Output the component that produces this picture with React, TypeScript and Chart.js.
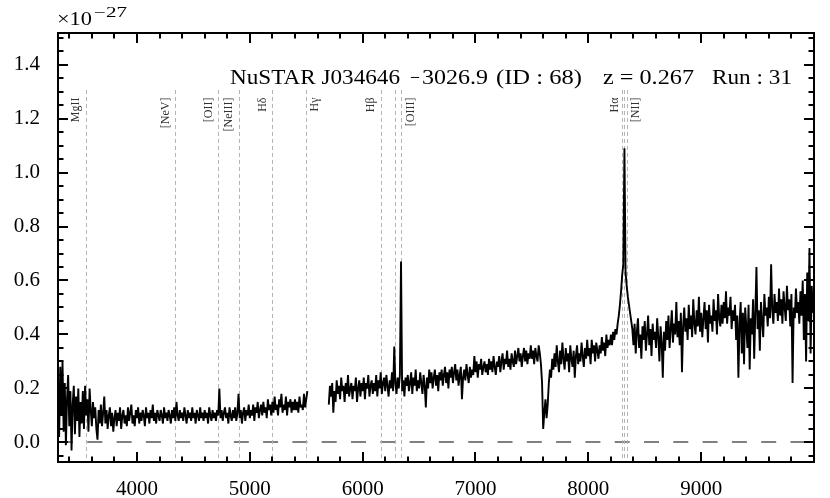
import React, { useEffect, useRef } from 'react';
import { Chart, registerables } from 'chart.js';

Chart.register(...registerables);

// ---------- data ----------
const REDSHIFT = 0.267;
const STEP = 10; // Angstrom sampling of the plotted spectrum
const BLUE_START = 3300;
const RED_START = 5700;

// flux (x1e-27), blue arm, 3300..5510 A
const fluxBlue = [
  0.20, 0.02, 0.28, 0.10, 0.30, 0.04, 0.22, -0.01, 0.16, 0.25,
  0.06, 0.19, -0.03, 0.14, 0.21, 0.03, 0.17, 0.08, 0.20, 0.02,
  0.15, 0.07, 0.19, 0.05, 0.21, 0.10, 0.16, 0.04, 0.20, 0.12,
  0.06, 0.15, 0.09, 0.13, 0.05, 0.01, 0.12, 0.07, 0.14, 0.06,
  0.11, 0.17, 0.07, 0.12, 0.05, 0.10, 0.13, 0.06, 0.11, 0.04,
  0.09, 0.12, 0.06, 0.11, 0.08, 0.13, 0.05, 0.10, 0.12, 0.07,
  0.10, 0.06, 0.13, 0.08, 0.11, 0.14, 0.07, 0.10, 0.06, 0.12,
  0.09, 0.13, 0.07, 0.11, 0.08, 0.12, 0.10, 0.06, 0.13, 0.09,
  0.11, 0.07, 0.12, 0.09, 0.14, 0.08, 0.11, 0.07, 0.12, 0.10,
  0.08, 0.12, 0.10, 0.07, 0.13, 0.09, 0.11, 0.08, 0.12, 0.10,
  0.07, 0.12, 0.09, 0.13, 0.08, 0.15, 0.10, 0.08, 0.12, 0.09,
  0.11, 0.08, 0.13, 0.10, 0.07, 0.12, 0.09, 0.11, 0.08, 0.13,
  0.09, 0.11, 0.07, 0.12, 0.10, 0.08, 0.13, 0.09, 0.11, 0.08,
  0.12, 0.09, 0.11, 0.07, 0.13, 0.10, 0.08, 0.12, 0.09, 0.11,
  0.08, 0.12, 0.10, 0.20, 0.09, 0.12, 0.08, 0.11, 0.13, 0.09,
  0.11, 0.07, 0.13, 0.10, 0.08, 0.12, 0.09, 0.13, 0.08, 0.11,
  0.18, 0.09, 0.12, 0.07, 0.11, 0.13, 0.08, 0.12, 0.10, 0.14,
  0.09, 0.12, 0.10, 0.14, 0.08, 0.13, 0.11, 0.15, 0.09, 0.12,
  0.14, 0.10, 0.15, 0.11, 0.13, 0.09, 0.16, 0.12, 0.14, 0.10,
  0.15, 0.11, 0.17, 0.12, 0.14, 0.10, 0.16, 0.13, 0.18, 0.11,
  0.14, 0.12, 0.17, 0.10, 0.15, 0.13, 0.16, 0.11, 0.15, 0.12,
  0.16, 0.12, 0.15, 0.11, 0.17, 0.13, 0.14, 0.12, 0.18, 0.13,
  0.16, 0.19,
];

// flux (x1e-27), red arm, 5700..9990 A
const fluxRed = [
  0.14, 0.21, 0.17, 0.22, 0.11, 0.19, 0.15, 0.23, 0.18, 0.21,
  0.16, 0.24, 0.19, 0.21, 0.15, 0.22, 0.18, 0.25, 0.17, 0.20,
  0.22, 0.16, 0.21, 0.19, 0.24, 0.15, 0.20, 0.23, 0.17, 0.22,
  0.19, 0.24, 0.16, 0.22, 0.20, 0.25, 0.17, 0.21, 0.23, 0.18,
  0.22, 0.19, 0.25, 0.17, 0.23, 0.20, 0.26, 0.18, 0.22, 0.24,
  0.19, 0.25, 0.21, 0.17, 0.23, 0.20, 0.26, 0.19, 0.355, 0.22,
  0.18, 0.24, 0.20, 0.25, 0.67, 0.19, 0.23, 0.17, 0.24, 0.21,
  0.25, 0.19, 0.22, 0.26, 0.18, 0.24, 0.21, 0.27, 0.19, 0.23,
  0.20, 0.26, 0.22, 0.18, 0.25, 0.21, 0.13, 0.24, 0.20, 0.27,
  0.22, 0.26, 0.20, 0.24, 0.27, 0.21, 0.25, 0.19, 0.26, 0.23,
  0.27, 0.21, 0.25, 0.28, 0.22, 0.26, 0.20, 0.27, 0.24, 0.28,
  0.22, 0.26, 0.29, 0.23, 0.27, 0.21, 0.25, 0.28, 0.16, 0.24,
  0.27, 0.23, 0.29, 0.25, 0.22, 0.28, 0.24, 0.27, 0.25, 0.32,
  0.26, 0.30, 0.24, 0.29, 0.27, 0.31, 0.25, 0.28, 0.30, 0.26,
  0.29, 0.25, 0.31, 0.27, 0.30, 0.26, 0.32, 0.28, 0.25, 0.30,
  0.28, 0.32, 0.26, 0.30, 0.33, 0.27, 0.31, 0.29, 0.34, 0.28,
  0.31, 0.27, 0.33, 0.30, 0.28, 0.34, 0.29, 0.32, 0.35, 0.30,
  0.33, 0.28, 0.32, 0.35, 0.30, 0.34, 0.29, 0.33, 0.31, 0.36,
  0.31, 0.34, 0.29, 0.35, 0.32, 0.30, 0.36, 0.33, 0.29, 0.22,
  0.05, 0.11, 0.16, 0.09, 0.14, 0.22, 0.27, 0.24, 0.31, 0.27,
  0.33, 0.28, 0.36, 0.30, 0.26, 0.34, 0.29, 0.37, 0.31, 0.27,
  0.35, 0.30, 0.33, 0.26, 0.36, 0.31, 0.28, 0.34, 0.24, 0.32,
  0.36, 0.29, 0.33, 0.30, 0.37, 0.32, 0.28, 0.35, 0.31, 0.38,
  0.32, 0.35, 0.29, 0.38, 0.33, 0.36, 0.30, 0.37, 0.34, 0.31,
  0.36, 0.33, 0.39, 0.34, 0.37, 0.32, 0.40, 0.35, 0.38, 0.36,
  0.40, 0.36, 0.41, 0.38, 0.42, 0.40, 0.44, 0.47, 0.51, 0.56,
  0.62, 0.66, 1.09, 0.63, 0.58, 0.54, 0.51, 0.48, 0.45, 0.42,
  0.36, 0.44, 0.33, 0.41, 0.46, 0.35, 0.40, 0.31, 0.43, 0.38,
  0.45, 0.34, 0.40, 0.47, 0.36, 0.42, 0.32, 0.44, 0.38, 0.41,
  0.35, 0.46, 0.39, 0.30, 0.43, 0.37, 0.24, 0.41, 0.34, 0.45,
  0.38, 0.47, 0.35, 0.42, 0.49, 0.37, 0.44, 0.40, 0.52, 0.39,
  0.45, 0.36, 0.48, 0.26, 0.43, 0.50, 0.41, 0.46, 0.38, 0.51,
  0.42, 0.47, 0.39, 0.53, 0.44, 0.40, 0.49, 0.43, 0.54, 0.41,
  0.48, 0.39, 0.46, 0.52, 0.42, 0.49, 0.37, 0.51, 0.44, 0.47,
  0.41, 0.53, 0.45, 0.49, 0.40, 0.55, 0.46, 0.43, 0.51, 0.44,
  0.52, 0.46, 0.56, 0.44, 0.50, 0.47, 0.54, 0.42, 0.49, 0.45,
  0.51, 0.38, 0.47, 0.24, 0.44, 0.52, 0.33, 0.48, 0.29, 0.50,
  0.43, 0.35, 0.51, 0.27, 0.46, 0.40, 0.53, 0.31, 0.48, 0.65,
  0.42, 0.49, 0.34, 0.52, 0.45, 0.39, 0.55, 0.47, 0.50, 0.43,
  0.54, 0.46, 0.66, 0.49, 0.44, 0.55, 0.48, 0.52, 0.45, 0.57,
  0.47, 0.53, 0.44, 0.56, 0.50, 0.45, 0.58, 0.49, 0.53, 0.43,
  0.55, 0.22, 0.50, 0.46, 0.57, 0.48, 0.52, 0.44, 0.56, 0.47,
  0.60, 0.38, 0.55, 0.30, 0.63, 0.45, 0.72, 0.33, 0.58, 0.48,
];

const xTickValues = [4000, 5000, 6000, 7000, 8000, 9000];
const yTickValues = [0.0, 0.2, 0.4, 0.6, 0.8, 1.0, 1.2, 1.4];

// emission lines (rest wavelength), label, side of label (-1 left, +1 right)
const lineRest = [2798, 3426, 3727, 3869, 4102, 4341, 4861, 4959, 5007, 6548, 6563, 6583];
const lineLabels = ['MgII', '[NeV]', '[OII]', '[NeIII]', 'Hδ', 'Hγ', 'Hβ', '', '[OIII]', '', 'Hα', '[NII]'];
const lineSides = [-1, -1, -1, -1, -1, 1, -1, 0, 1, 0, -1, 1];

const titleParts = ['NuSTAR J034646', '−', '3026.9', '(ID : 68)', 'z = 0.267', 'Run : 31'];

const FONT = "'Liberation Serif', 'Times New Roman', serif";

export default function App() {
  const ref = useRef<HTMLCanvasElement>(null);

  useEffect(() => {
    const canvas = ref.current;
    if (!canvas) return;
    const toPts = (start: number, arr: number[]) => arr.map((v, i) => ({ x: start + i * STEP, y: v }));

    const fitText = (ctx: CanvasRenderingContext2D, text: string, x0: number, x1: number, base: number, font: string) => {
      ctx.font = font;
      const w = ctx.measureText(text).width;
      const s = (x1 - x0) / w;
      ctx.save();
      ctx.translate(x0, base);
      ctx.scale(s, 1);
      ctx.textAlign = 'left';
      ctx.textBaseline = 'alphabetic';
      ctx.fillText(text, 0, 0);
      ctx.restore();
    };

    const overlay = {
      id: 'overlay',
      beforeDatasetsDraw(chart: any) {
        const { ctx, chartArea: a, scales } = chart;
        const xs = scales.x, ys = scales.y;
        ctx.save();
        ctx.beginPath();
        ctx.rect(a.left, a.top, a.right - a.left, a.bottom - a.top);
        ctx.clip();
        // zero line
        ctx.setLineDash([15, 14.3]);
        ctx.strokeStyle = '#808080';
        ctx.lineWidth = 2;
        const y0 = Math.round(ys.getPixelForValue(0));
        ctx.beginPath();
        ctx.moveTo(a.left, y0);
        ctx.lineTo(a.right, y0);
        ctx.stroke();
        // emission lines
        ctx.setLineDash([4, 3]);
        ctx.strokeStyle = '#b4b4b4';
        ctx.lineWidth = 1;
        const topY = ys.getPixelForValue(1.306);
        lineRest.forEach((r) => {
          const px = Math.round(xs.getPixelForValue(r * (1 + REDSHIFT))) + 0.5;
          ctx.beginPath();
          ctx.moveTo(px, topY);
          ctx.lineTo(px, a.bottom);
          ctx.stroke();
        });
        ctx.restore();
        // labels
        ctx.save();
        ctx.fillStyle = '#333';
        ctx.font = `12px ${FONT}`;
        const labTop = ys.getPixelForValue(1.278);
        lineRest.forEach((r, i) => {
          const lab = lineLabels[i];
          if (!lab) return;
          const px = xs.getPixelForValue(r * (1 + REDSHIFT));
          const cx = px + (lineSides[i] < 0 ? -9.5 : 9);
          ctx.save();
          ctx.translate(cx, labTop);
          ctx.rotate(-Math.PI / 2);
          ctx.textAlign = 'right';
          ctx.textBaseline = 'middle';
          ctx.fillText(lab, 0, 0);
          ctx.restore();
        });
        ctx.restore();
      },
      afterDraw(chart: any) {
        const { ctx, chartArea: a, scales } = chart;
        const xs = scales.x, ys = scales.y;
        ctx.save();
        ctx.strokeStyle = '#000';
        ctx.lineWidth = 2;
        ctx.setLineDash([]);
        ctx.strokeRect(a.left, a.top, a.right - a.left, a.bottom - a.top);
        // x ticks
        ctx.beginPath();
        for (let v = 3400; v <= 9800; v += 200) {
          const major = v % 1000 === 0;
          const len = major ? 10 : 5.5;
          const px = Math.round(xs.getPixelForValue(v));
          ctx.moveTo(px, a.bottom); ctx.lineTo(px, a.bottom - len);
          ctx.moveTo(px, a.top); ctx.lineTo(px, a.top + len);
        }
        // y ticks
        for (let k = -1; k <= 30; k++) {
          const v = k * 0.05;
          const major = k >= 0 && k % 4 === 0;
          const len = major ? 10 : 5.5;
          const py = Math.round(ys.getPixelForValue(v));
          if (py < a.top || py > a.bottom) continue;
          ctx.moveTo(a.left, py); ctx.lineTo(a.left + len, py);
          ctx.moveTo(a.right, py); ctx.lineTo(a.right - len, py);
        }
        ctx.stroke();
        // title
        ctx.fillStyle = '#000';
        const tf = `20px ${FONT}`;
        const spans = [[230, 400], [410, 420], [422, 488], [496, 582], [603, 694], [712, 792]];
        titleParts.forEach((t, i) => fitText(ctx, t, spans[i][0], spans[i][1], 84, tf));
        // exponent
        fitText(ctx, '×10', 57, 92, 25, `18px ${FONT}`);
        fitText(ctx, '−27', 94, 127, 16.5, `14px ${FONT}`);
        ctx.restore();
      },
    };

    const common = {
      borderColor: '#000',
      borderWidth: 1.9,
      pointRadius: 0,
      tension: 0,
      fill: false,
      borderJoinStyle: 'bevel',
    };

    const chart = new Chart(canvas, {
      type: 'line',
      data: {
        datasets: [
          { ...common, data: toPts(BLUE_START, fluxBlue) },
          { ...common, data: toPts(RED_START, fluxRed) },
        ],
      },
      options: {
        responsive: false,
        animation: false,
        devicePixelRatio: 1,
        layout: { padding: { top: 33, right: 16, left: 0, bottom: 0 } },
        plugins: { legend: { display: false }, tooltip: { enabled: false }, title: { display: false } },
        scales: {
          x: {
            type: 'linear',
            min: 3300,
            max: 10000,
            grid: { display: false },
            border: { display: false },
            afterBuildTicks: (s: any) => { s.ticks = xTickValues.map((v) => ({ value: v })); },
            afterFit: (s: any) => { s.height = 36; },
            ticks: {
              font: { family: FONT, size: 21 },
              color: '#000',
              padding: 7,
              maxRotation: 0,
              autoSkip: false,
              callback: (v: any) => String(v),
            },
          },
          y: {
            type: 'linear',
            min: -0.0725,
            max: 1.517,
            grid: { display: false },
            border: { display: false },
            afterBuildTicks: (s: any) => { s.ticks = yTickValues.map((v) => ({ value: v })); },
            afterFit: (s: any) => { s.width = 58; },
            ticks: {
              font: { family: FONT, size: 21 },
              color: '#000',
              padding: 10,
              autoSkip: false,
              callback: (v: any) => Number(v).toFixed(1),
            },
          },
        },
      } as any,
      plugins: [overlay],
    });
    return () => chart.destroy();
  }, []);

  return (
    <div style={{ position: 'fixed', left: 0, top: 0, width: 830, height: 498, background: '#fff' }}>
      <canvas ref={ref} width={830} height={498} style={{ display: 'block' }} />
    </div>
  );
}
